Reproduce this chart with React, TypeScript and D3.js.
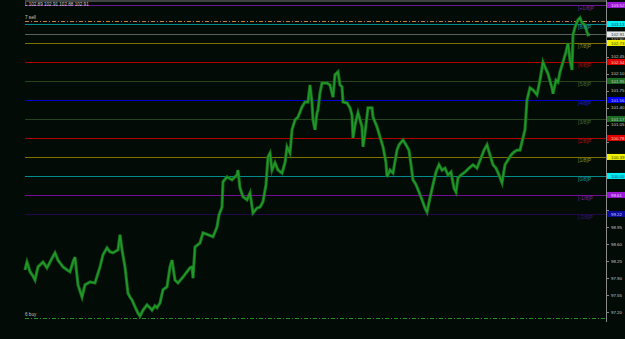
import React from "react";
import * as d3 from "d3";

const header = "L 102.89 102.91 102.88 102.91";

// bar index (time) of each traced point
const bars: number[] = [
  0, 2, 5, 8, 10, 13, 18, 22, 27, 30,
  33, 38, 42, 45, 48, 50, 53, 57, 60, 65,
  70, 75, 78, 82, 85, 88, 93, 95, 97, 100,
  103, 105, 107, 110, 113, 115, 118, 122, 125, 127,
  130, 132, 135, 138, 142, 145, 147, 150, 153, 158,
  162, 165, 167, 168, 170, 175, 178, 183, 188, 192,
  194,
  197, 198, 202, 207, 212, 213, 215, 218, 222, 225,
  228, 232, 235, 238, 241, 243, 245, 247, 250, 253,
  257, 260, 262, 265, 267, 270, 273, 277, 280, 283,
  285, 287, 288, 290, 292, 293, 295, 297, 302, 305,
  308, 310, 313, 315, 317, 318, 322, 325, 327, 328,
  330, 333, 337, 338, 340, 343, 347, 348, 352, 355,
  358, 361, 362, 365, 368, 372, 374,
  378, 381, 384, 386, 388, 391, 394, 397, 400, 402,
  405, 408, 411, 414, 417, 420, 423, 426, 429, 431,
  433, 436, 440, 444, 448, 452, 456, 459, 462, 465,
  468, 471, 474, 477, 480, 483, 486, 489, 492, 495,
  497, 500, 502, 505, 508, 512, 515, 518, 520, 523,
  527, 528, 531, 533, 535, 538, 541, 543, 545, 547,
  548, 550, 553, 555, 557, 560, 562, 563, 565,
];

const closes: number[] = [
  98.07, 98.23, 98.03, 97.94, 97.86, 98.13, 98.23, 98.11, 98.31, 98.42,
  98.27, 98.13, 98.07, 98.03, 98.23, 98.33, 97.76, 97.51, 97.76, 97.82,
  97.8, 98.13, 98.38, 98.52, 98.44, 98.42, 98.48, 98.79, 98.48, 98.13,
  97.59, 97.51, 97.45, 97.31, 97.18, 97.12, 97.24, 97.35, 97.29, 97.24,
  97.33, 97.29, 97.39, 97.66, 97.72, 98.13, 98.27, 97.86, 97.8, 97.92,
  98.03, 98.11, 98.13, 97.9, 98.54, 98.62, 98.83, 98.79, 98.75, 98.95,
  99.2,
  99.36, 99.88, 99.98, 99.92, 100.02, 100.12, 99.75, 99.57, 99.51, 99.65,
  99.24, 99.34, 99.36, 99.47, 99.82, 100.39, 100.47, 100.12, 100.27, 100.12,
  100.06, 100.27, 100.6, 100.47, 100.95, 101.15, 101.21, 101.42, 101.52, 101.52,
  101.87, 101.5, 101.15, 100.95, 101.3, 101.36, 101.71, 101.91, 101.91, 101.87,
  101.62, 102.08, 102.14, 101.87, 101.83, 101.52, 101.5, 101.4, 101.25, 100.78,
  101.05, 101.3, 101.01, 100.6, 100.88, 101.4, 101.4, 101.21, 101.01, 100.8,
  100.6, 100.27, 99.98, 100.12, 100.06, 100.53, 100.64,
  100.74, 100.64, 100.53, 100.23, 99.92, 99.82, 99.67, 99.51, 99.34, 99.26,
  99.55, 99.82, 100.08, 100.23, 100.12, 100.16, 100.02, 100.08, 99.75, 99.67,
  99.96, 100.02, 100.08, 100.16, 100.23, 100.16, 100.37, 100.53, 100.64, 100.43,
  100.23, 100.16, 100.02, 99.86, 100.23, 100.33, 100.43, 100.49, 100.53, 100.53,
  100.7, 100.95, 101.56, 101.81, 101.77, 101.67, 101.97, 102.34, 102.24, 102.1,
  101.81, 101.69, 101.97, 101.93, 102.14, 102.34, 102.55, 102.73, 102.38, 102.18,
  102.9, 103.06, 103.21, 103.25, 103.15, 103.1, 102.96, 102.9, 102.91,
];

const mmLevels: number[] = [
  103.515625, 103.125, 102.734375, 102.34375, 101.953125, 101.5625,
  101.171875, 100.78125, 100.390625, 100.0, 99.609375, 99.21875,
];
const mmLabels: string[] = [
  "[+1/8]P", "[8/8]P", "[7/8]P", "[6/8]P", "[5/8]P", "[4/8]P",
  "[3/8]P", "[2/8]P", "[1/8]P", "[0/8]P", "[-1/8]P", "[-2/8]P",
];

const axisTicks: number[] = [
  97.2, 97.55, 97.9, 98.25, 98.6, 98.95, 99.3, 99.65, 100.0,
  100.35, 100.7, 101.05, 101.4, 101.75, 102.1, 102.45, 102.8,
];

const bidPrice = 102.91;
const sellPrice = 103.19;
const buyPrice = 97.08;
const sellLabel = "7 sell";
const buyLabel = "6 buy";

const levelStyles = [
  { line: "#6e1794", label: "#7a2aa0", box: "#9a18d6", text: "#eadcf4" },
  { line: "#008c8c", label: "#1a9a9a", box: "#00f0f0", text: "#10405a" },
  { line: "#7c7200", label: "#9a8a20", box: "#f0f000", text: "#3a3a00" },
  { line: "#b00000", label: "#b01010", box: "#e00000", text: "#f4d4d4" },
  { line: "#26431b", label: "#4a6a30", box: "#1d6b24", text: "#c0d4c0" },
  { line: "#0000d2", label: "#2020d0", box: "#0000f0", text: "#c8c8ff" },
  { line: "#26431b", label: "#4a6a30", box: "#1d6b24", text: "#c0d4c0" },
  { line: "#b00000", label: "#b01010", box: "#e00000", text: "#f4d4d4" },
  { line: "#7c7200", label: "#9a8a20", box: "#f0f000", text: "#3a3a00" },
  { line: "#008c8c", label: "#1a9a9a", box: "#00f0f0", text: "#10405a" },
  { line: "#780c98", label: "#7a2aa0", box: "#9a18d6", text: "#eadcf4" },
  { line: "#22084a", label: "#3a1a7a", box: "#0c0c9c", text: "#c8c8ff" },
];

export default function App() {
  const W = 625;
  const H = 339;
  const left = 25;
  const right = 606;
  const bottom = 322;
  const font = "'Liberation Sans', Arial, sans-serif";

  const x = d3.scaleLinear().domain([0, 581]).range([left, right]);
  const y = d3.scaleLinear().domain([96.997, 103.618]).range([bottom, 0]);

  const n = Math.min(bars.length, closes.length);
  const pts: [number, number][] = [];
  for (let i = 0; i < n; i++) pts.push([bars[i], closes[i]]);
  const line = d3
    .line<[number, number]>()
    .x((d) => x(d[0]))
    .y((d) => y(d[1]));
  const pathD = line(pts) || "";

  const boxPrices = [...mmLevels, bidPrice];
  const visibleTicks = axisTicks.filter(
    (t) => t === 102.8 || !boxPrices.some((b) => Math.abs(y(b) - y(t)) < 5)
  );

  return (
    <svg
      width={W}
      height={H}
      style={{ position: "absolute", left: 0, top: 0, display: "block" }}
    >
      <rect x={0} y={0} width={W} height={H} fill="#030b06" />
      <line x1={left} x2={right} y1={1} y2={1} stroke="#7c7c7c" strokeWidth={1} />

      {mmLevels.map((lv, i) => (
        <line
          key={"l" + i}
          x1={left}
          x2={right}
          y1={Math.round(y(lv)) + 0.5}
          y2={Math.round(y(lv)) + 0.5}
          stroke={levelStyles[i].line}
          strokeWidth={1}
        />
      ))}

      <line
        x1={left}
        x2={right}
        y1={Math.round(y(bidPrice)) + 0.5}
        y2={Math.round(y(bidPrice)) + 0.5}
        stroke="#5e5e5e"
        strokeWidth={1}
      />

      <line
        x1={left}
        x2={right}
        y1={Math.round(y(sellPrice)) + 0.5}
        y2={Math.round(y(sellPrice)) + 0.5}
        stroke="#c8803c"
        strokeWidth={1}
        strokeDasharray="4,2,1,2"
      />
      <line
        x1={left}
        x2={right}
        y1={Math.round(y(buyPrice)) + 0.5}
        y2={Math.round(y(buyPrice)) + 0.5}
        stroke="#1f8f1f"
        strokeWidth={1}
        strokeDasharray="4,2,1,2"
      />

      <path d={pathD} fill="none" stroke="#166b1b" strokeWidth={3.2} strokeLinejoin="miter" strokeMiterlimit={4} />
      <path d={pathD} fill="none" stroke="#229a2a" strokeWidth={1.5} strokeLinejoin="miter" strokeMiterlimit={4} />

      {mmLevels.map((lv, i) => (
        <text
          key={"t" + i}
          x={578}
          y={y(lv) + 5.5}
          fontSize={5}
          fontFamily={font}
          fill={levelStyles[i].label}
        >
          {mmLabels[i]}
        </text>
      ))}

      <text x={left} y={6} fontSize={4.6} fontFamily={font} fill="#d0d0d0">
        {header}
      </text>
      <text x={left} y={y(sellPrice) - 2} fontSize={4.6} fontFamily={font} fill="#d0d0d0">
        {sellLabel}
      </text>
      <text x={left} y={y(buyPrice) - 1.5} fontSize={4.6} fontFamily={font} fill="#c0c0c0">
        {buyLabel}
      </text>

      <line x1={right + 0.5} x2={right + 0.5} y1={0} y2={bottom} stroke="#8a8a8a" strokeWidth={1} />
      {axisTicks.map((t, i) => (
        <line
          key={"m" + i}
          x1={right}
          x2={right + 3}
          y1={Math.round(y(t)) + 0.5}
          y2={Math.round(y(t)) + 0.5}
          stroke="#8a8a8a"
        />
      ))}
      {visibleTicks.map((t, i) => (
        <text
          key={"a" + i}
          x={611}
          y={y(t) + 1.6}
          fontSize={4.4}
          fontFamily={font}
          fill="#c8c8c8"
        >
          {t.toFixed(2)}
        </text>
      ))}

      {mmLevels.map((lv, i) => (
        <g key={"b" + i}>
          <rect x={607} y={y(lv) - 3} width={18} height={6} fill={levelStyles[i].box} />
          <text x={611} y={y(lv) + 1.6} fontSize={4.4} fontFamily={font} fill={levelStyles[i].text}>
            {lv.toFixed(2)}
          </text>
        </g>
      ))}
      <rect x={607} y={y(bidPrice) - 3} width={18} height={6} fill="#e8e8e8" />
      <text x={611} y={y(bidPrice) + 1.6} fontSize={4.4} fontFamily={font} fill="#303030">
        {bidPrice.toFixed(2)}
      </text>
    </svg>
  );
}
